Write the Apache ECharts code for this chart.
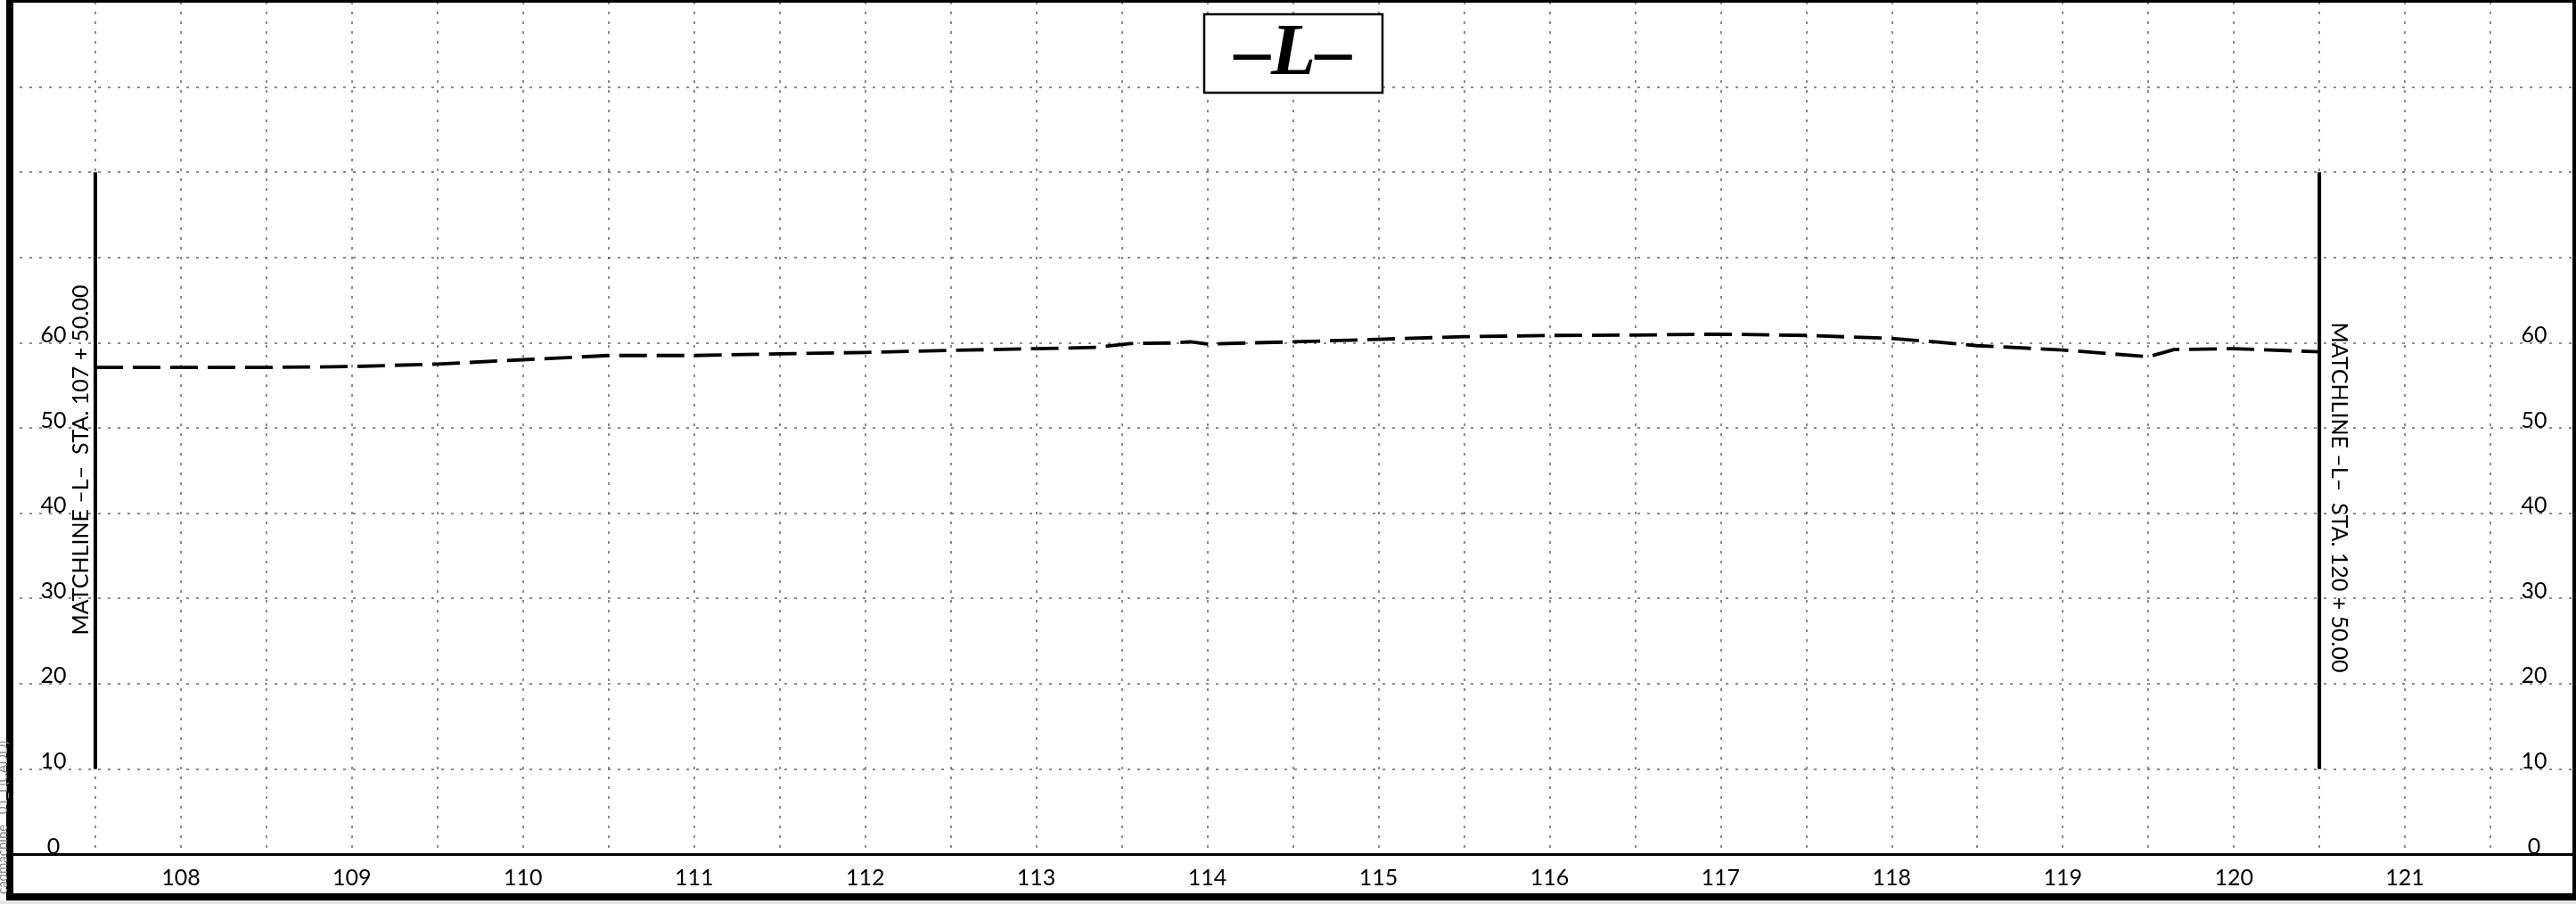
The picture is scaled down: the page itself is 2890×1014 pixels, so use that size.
<!DOCTYPE html>
<html><head><meta charset="utf-8">
<script src="https://cdn.jsdelivr.net/npm/echarts@6/dist/echarts.min.js"></script>
<style>html,body{margin:0;padding:0;background:#fff;overflow:hidden}#c{width:2890px;height:1014px}</style>
</head><body><div id="c"></div>
<script>
// ---- data ----
const stations   = [107.5, 108.0, 108.5, 109.0, 109.25, 109.5, 110.0, 110.5, 111.0, 111.5, 112.0, 112.5, 113.0, 113.35, 113.55, 113.8, 113.9, 114.0, 114.5, 115.0, 115.5, 116.0, 116.5, 117.0, 117.5, 118.0, 118.25, 118.5, 119.0, 119.5, 119.65, 120.0, 120.5];
const elevations = [57.1, 57.1, 57.1, 57.2, 57.35, 57.5, 58.0, 58.5, 58.5, 58.7, 58.85, 59.1, 59.3, 59.45, 59.9, 59.97, 60.1, 59.85, 60.1, 60.4, 60.7, 60.85, 60.9, 61.0, 60.85, 60.5, 60.1, 59.65, 59.15, 58.35, 59.2, 59.3, 58.93];
const matchlineStations = [107.5, 120.5];
const matchlineElevRange = [10, 80];
const matchlineTexts = ['MATCHLINE \u2013L\u2013  STA. 107 + 50.00', 'MATCHLINE \u2013L\u2013  STA. 120 + 50.00'];
const stationLabels = [108, 109, 110, 111, 112, 113, 114, 115, 116, 117, 118, 119, 120, 121];
const elevationLabels = [0, 10, 20, 30, 40, 50, 60];
const titleText = '\u2013L\u2013';
const footerText = 'cadmachine   01_L(CADD)';

// ---- chart ----
const FONT = 'Lato, "Noto Sans", sans-serif';
const gridDots = { color: '#666', width: 1.5, type: [3, 8] };
const chart = echarts.init(document.getElementById('c'), null, { renderer: 'canvas' });

const profileData = stations.map((s, i) => [s, elevations[i]]);
const matchSeries = matchlineStations.map(s => ({
  type: 'line', xAxisIndex: 0, yAxisIndex: 0, symbol: 'none', silent: true, z: 6,
  data: [[s, matchlineElevRange[0]], [s, matchlineElevRange[1]]],
  lineStyle: { color: '#000', width: 4, type: 'solid' }
}));

const yLabelFmt = v => elevationLabels.indexOf(v) >= 0 ? String(v) : '';

chart.setOption({
  animation: false,
  backgroundColor: '#fff',
  grid: { left: 11, right: 0, top: 2, bottom: 56, containLabel: false },
  xAxis: {
    type: 'value', min: 107, max: 122, interval: 0.5,
    axisLine: { show: true, lineStyle: { color: '#000', width: 3 } },
    axisTick: { show: false },
    splitLine: { show: true, lineStyle: gridDots },
    axisLabel: {
      show: true, margin: 27, verticalAlign: 'middle', fontSize: 25, color: '#000', fontFamily: FONT,
      showMinLabel: false, showMaxLabel: false, hideOverlap: false,
      formatter: v => stationLabels.indexOf(v) >= 0 ? String(v) : ''
    }
  },
  yAxis: [
    {
      type: 'value', position: 'left', min: 0, max: 100, interval: 10,
      axisLine: { show: false }, axisTick: { show: false },
      splitLine: { show: true, lineStyle: gridDots },
      axisLabel: { inside: true, margin: 49, align: 'center', verticalAlign: 'bottom', lineHeight: 17,
        fontSize: 25, color: '#000', fontFamily: FONT, formatter: yLabelFmt, showMinLabel: true }
    },
    {
      type: 'value', position: 'right', min: 0, max: 100, interval: 10,
      axisLine: { show: false }, axisTick: { show: false }, splitLine: { show: false },
      axisLabel: { inside: true, margin: 47, align: 'center', verticalAlign: 'bottom', lineHeight: 17,
        fontSize: 25, color: '#000', fontFamily: FONT, formatter: yLabelFmt, showMinLabel: true }
    }
  ],
  series: [
    {
      type: 'line', name: 'profile', xAxisIndex: 0, yAxisIndex: 0, symbol: 'none', silent: true, z: 5,
      data: profileData,
      lineStyle: { color: '#000', width: 3.8, type: [31, 11], cap: 'butt', join: 'round' }
    }
  ].concat(matchSeries)
});

// ---- decorations (frame, title box, rotated matchline notes) ----
const pL = chart.convertToPixel({ gridIndex: 0 }, [matchlineStations[0], 0]);
const pR = chart.convertToPixel({ gridIndex: 0 }, [matchlineStations[1], 0]);

chart.setOption({
  graphic: [
    { type: 'rect', z: 100, shape: { x: 0, y: 1010, width: 2890, height: 4 }, style: { fill: '#e6e6e6' } },
    { type: 'rect', z: 100, shape: { x: 7, y: 0, width: 8, height: 1010 }, style: { fill: '#000' } },
    { type: 'rect', z: 100, shape: { x: 7, y: 0, width: 2883, height: 3 }, style: { fill: '#000' } },
    { type: 'rect', z: 100, shape: { x: 2886, y: 0, width: 4, height: 1010 }, style: { fill: '#000' } },
    { type: 'rect', z: 100, shape: { x: 7, y: 1002, width: 2883, height: 8 }, style: { fill: '#000' } },
    { type: 'rect', z: 100, shape: { x: 1351, y: 16, width: 200, height: 88 }, style: { fill: '#fff', stroke: '#000', lineWidth: 2.5 } },
    { type: 'text', z: 101, x: 1451, y: 62, style: { text: titleText, fontSize: 82, fontWeight: 'bold', fontStyle: 'italic',
        fontFamily: '"Liberation Serif", "DejaVu Serif", serif', fill: '#000', align: 'center', verticalAlign: 'middle' } },
    { type: 'text', z: 101, x: pL[0] - 16, y: 516, rotation: Math.PI / 2,
      style: { text: matchlineTexts[0], fontSize: 25, fontFamily: FONT, fill: '#000', align: 'center', verticalAlign: 'middle' } },
    { type: 'text', z: 101, x: pR[0] + 22, y: 558, rotation: -Math.PI / 2,
      style: { text: matchlineTexts[1], fontSize: 25, fontFamily: FONT, fill: '#000', align: 'center', verticalAlign: 'middle' } },
    { type: 'text', z: 101, x: 3, y: 1003, rotation: Math.PI / 2,
      style: { text: footerText, fontSize: 15, fontFamily: FONT, fill: '#888', align: 'left', verticalAlign: 'middle' } }
  ]
});
</script></body></html>
